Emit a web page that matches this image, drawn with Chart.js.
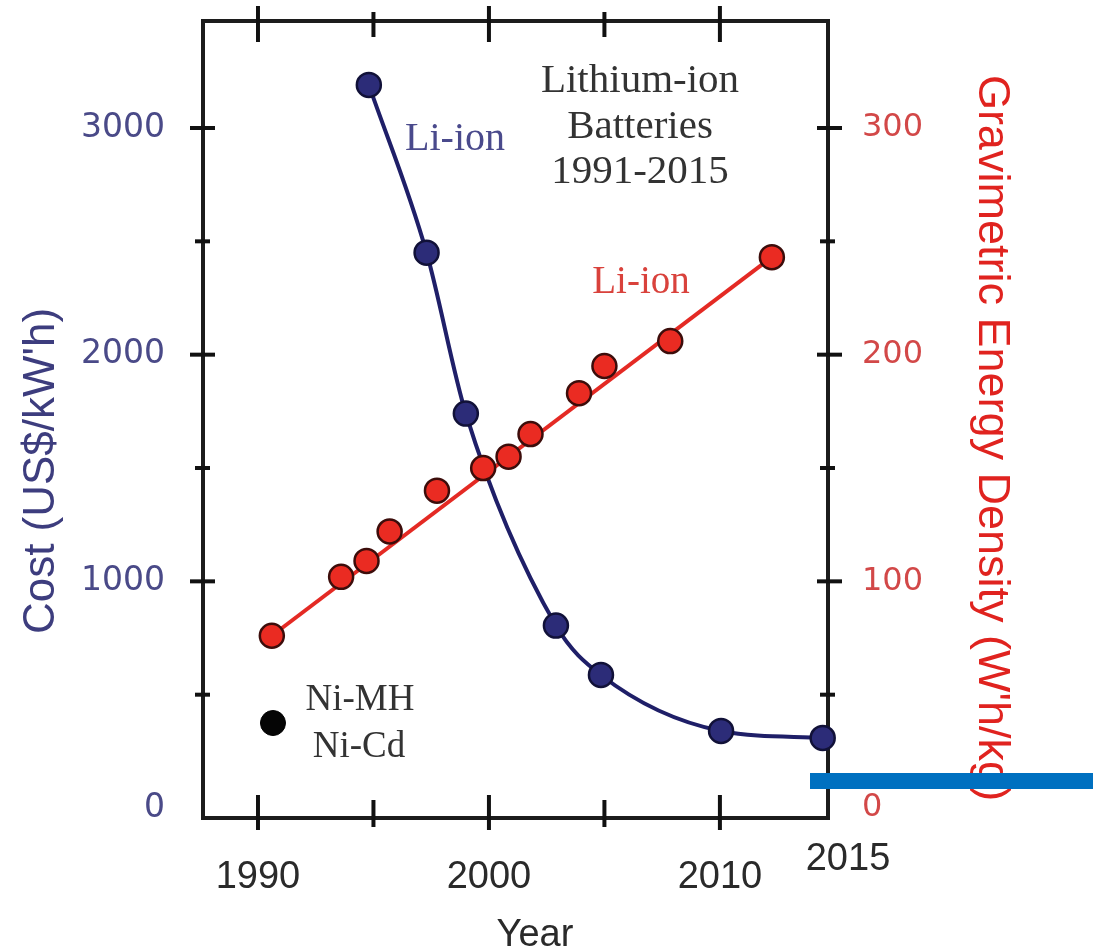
<!DOCTYPE html>
<html>
<head>
<meta charset="utf-8">
<title>Lithium-ion batteries: cost and energy density</title>
<script src="https://cdn.jsdelivr.net/npm/chart.js@4.4.1/dist/chart.umd.min.js"></script>
<style>
  html, body { margin: 0; padding: 0; background: #ffffff; overflow: hidden; }
  canvas { display: block; }
</style>
</head>
<body>
<canvas id="chart" width="1093" height="952"></canvas>
<script>
// Li-ion pack cost (US$/kWh) by year
const costYears  = [1994.8, 1997.3, 1999.0, 2002.9, 2004.85, 2010.05, 2014.45];
const costValues = [3190, 2450, 1740, 805, 587, 340, 309];

// Li-ion gravimetric energy density (Wh/kg) by year
const densityYears  = [1990.6, 1993.6, 1994.7, 1995.7, 1997.75, 1999.75, 2000.85, 2001.8, 2003.9, 2005.0, 2007.85, 2012.25];
const densityValues = [76, 102, 109, 122, 140, 150, 155, 165, 183, 195, 206, 243];

// straight trend through the energy density points
const densityTrendYears  = [1990.6, 2012.25];
const densityTrendValues = [76, 243];

// Ni-MH / Ni-Cd reference cost
const nickelYears = [1990.65];
const nickelCosts = [375];

// axes
const yearTicks     = [1990, 1995, 2000, 2005, 2010];
const yearLabels    = [1990, 2000, 2010];
const costTicks     = [0, 500, 1000, 1500, 2000, 2500, 3000];
const costLabels    = [0, 1000, 2000, 3000];
const densityTicks  = [0, 50, 100, 150, 200, 250, 300];
const densityLabels = [0, 100, 200, 300];

const toPoints = (xs, ys) => xs.map((x, i) => ({ x: x, y: ys[i] }));

const NAVY = '#1f1f68';
const RED  = '#e42a24';
const SANS = '"Liberation Sans", Arial, sans-serif';

function line(ctx, x1, y1, x2, y2) {
  ctx.beginPath(); ctx.moveTo(x1, y1); ctx.lineTo(x2, y2); ctx.stroke();
}

// keep the plot frame fixed: no extra edge padding from tick labels
function noEdgePadding(scale) {
  scale.paddingTop = 0;
  scale.paddingBottom = 0;
  scale.paddingLeft = 0;
  scale.paddingRight = 0;
}

const frameAndNotes = {
  id: 'frameAndNotes',
  beforeDatasetsDraw(chart) {
    const { ctx, chartArea: a, scales } = chart;
    ctx.save();
    ctx.strokeStyle = '#1c1c1c';
    ctx.lineWidth = 4;
    ctx.strokeRect(a.left, a.top, a.right - a.left, a.bottom - a.top);

    ctx.strokeStyle = '#111111';
    ctx.lineWidth = 4;
    yearTicks.forEach(v => {
      const x = scales.x.getPixelForValue(v);
      const major = yearLabels.includes(v);
      line(ctx, x, a.bottom - (major ? 23 : 18), x, a.bottom + (major ? 12 : 9));
      line(ctx, x, a.top - (major ? 15 : 9), x, a.top + (major ? 21 : 16));
    });
    costTicks.filter(v => v > 0).forEach(v => {
      const y = scales.y.getPixelForValue(v);
      const major = costLabels.includes(v);
      line(ctx, a.left - (major ? 13 : 8), y, a.left + (major ? 12 : 7), y);
    });
    densityTicks.filter(v => v > 0).forEach(v => {
      const y = scales.y1.getPixelForValue(v);
      const major = densityLabels.includes(v);
      line(ctx, a.right - (major ? 11 : 8), y, a.right + (major ? 14 : 7), y);
    });
    ctx.restore();
  },
  afterDraw(chart) {
    const { ctx } = chart;
    ctx.save();
    const serif = '"Liberation Serif", "DejaVu Serif", serif';

    ctx.textAlign = 'center';
    ctx.textBaseline = 'alphabetic';

    ctx.fillStyle = '#333333';
    ctx.font = '41px ' + serif;
    ctx.fillText('Lithium-ion', 640, 92);
    ctx.fillText('Batteries', 640, 138);
    ctx.fillText('1991-2015', 640, 183);

    ctx.font = '40px ' + serif;
    ctx.fillStyle = '#4a4a8c';
    ctx.fillText('Li-ion', 455, 150);

    ctx.font = '39px ' + serif;
    ctx.fillStyle = '#d9423c';
    ctx.fillText('Li-ion', 641, 293);

    ctx.font = '37px ' + serif;
    ctx.fillStyle = '#333333';
    ctx.fillText('Ni-MH', 360, 710);
    ctx.fillText('Ni-Cd', 359, 757);

    // axis titles
    ctx.font = '38px ' + SANS;
    ctx.fillStyle = '#2a2a2a';
    ctx.fillText('Year', 535, 946);
    ctx.fillText('2015', 848, 870);

    ctx.save();
    ctx.translate(42, 471);
    ctx.rotate(-Math.PI / 2);
    ctx.textBaseline = 'middle';
    ctx.font = '44px ' + SANS;
    ctx.fillStyle = '#3d3d7e';
    ctx.fillText('Cost (US$/kW\'h)', 0, 0);
    ctx.restore();

    ctx.save();
    ctx.translate(991, 438);
    ctx.rotate(Math.PI / 2);
    ctx.textBaseline = 'middle';
    ctx.font = '45px ' + SANS;
    ctx.fillStyle = '#e0231f';
    ctx.fillText('Gravimetric Energy Density (W\'h/kg)', 0, 0);
    ctx.restore();

    // blue marker bar at the lower right
    ctx.fillStyle = '#0070c0';
    ctx.fillRect(810, 773, 283, 16);
    ctx.restore();
  }
};

new Chart(document.getElementById('chart'), {
  type: 'scatter',
  data: {
    datasets: [
      {
        label: 'Ni-MH / Ni-Cd',
        data: toPoints(nickelYears, nickelCosts),
        yAxisID: 'y',
        pointRadius: 12.5,
        pointBackgroundColor: '#050505',
        pointBorderColor: '#000000',
        pointBorderWidth: 1,
        showLine: false,
        clip: false,
        order: 0
      },
      {
        label: 'Li-ion energy density',
        data: toPoints(densityYears, densityValues),
        yAxisID: 'y1',
        pointRadius: 12,
        pointBackgroundColor: '#ea2b22',
        pointBorderColor: '#3c0d0b',
        pointBorderWidth: 2.5,
        showLine: false,
        clip: false,
        order: 1
      },
      {
        label: 'Li-ion cost',
        data: toPoints(costYears, costValues),
        yAxisID: 'y',
        showLine: true,
        cubicInterpolationMode: 'monotone',
        borderColor: NAVY,
        borderWidth: 4,
        pointRadius: 12,
        pointBackgroundColor: '#2c2c78',
        pointBorderColor: '#111138',
        pointBorderWidth: 2.5,
        clip: false,
        order: 2
      },
      {
        label: 'Li-ion energy density trend',
        data: toPoints(densityTrendYears, densityTrendValues),
        yAxisID: 'y1',
        showLine: true,
        borderColor: RED,
        borderWidth: 4,
        pointRadius: 0,
        clip: false,
        order: 3
      }
    ]
  },
  options: {
    responsive: false,
    devicePixelRatio: 1,
    animation: false,
    events: [],
    layout: { padding: { top: 21, left: 0, right: 0, bottom: 0 } },
    plugins: {
      legend: { display: false },
      tooltip: { enabled: false },
      title: { display: false }
    },
    scales: {
      x: {
        type: 'linear',
        position: 'bottom',
        min: 1987.62,
        max: 2014.68,
        afterBuildTicks: axis => { axis.ticks = yearTicks.map(v => ({ value: v })); },
        afterFit: scale => { scale.height = 134; noEdgePadding(scale); },
        grid: { display: false, drawTicks: false },
        border: { display: false },
        ticks: {
          autoSkip: false,
          maxRotation: 0,
          padding: 41,
          color: '#2a2a2a',
          font: { family: SANS, size: 38, lineHeight: 1 },
          callback: v => (yearLabels.includes(v) ? String(v) : '')
        }
      },
      y: {
        type: 'linear',
        position: 'left',
        min: -44,
        max: 3472,
        afterBuildTicks: axis => { axis.ticks = costTicks.map(v => ({ value: v })); },
        afterFit: scale => { scale.width = 203; noEdgePadding(scale); },
        grid: { display: false, drawTicks: false },
        border: { display: false },
        ticks: {
          autoSkip: false,
          padding: 38,
          color: '#4a4a88',
          font: { family: '"DejaVu Sans", Verdana, sans-serif', size: 33 },
          callback: v => (costLabels.includes(v) ? String(v) : '')
        }
      },
      y1: {
        type: 'linear',
        position: 'right',
        min: -4.4,
        max: 347.2,
        afterBuildTicks: axis => { axis.ticks = densityTicks.map(v => ({ value: v })); },
        afterFit: scale => { scale.width = 265; noEdgePadding(scale); },
        grid: { display: false, drawTicks: false },
        border: { display: false },
        ticks: {
          autoSkip: false,
          padding: 34,
          color: '#d24848',
          font: { family: '"DejaVu Sans", Verdana, sans-serif', size: 32 },
          callback: v => (densityLabels.includes(v) ? String(v) : '')
        }
      }
    }
  },
  plugins: [frameAndNotes]
});
</script>
</body>
</html>
